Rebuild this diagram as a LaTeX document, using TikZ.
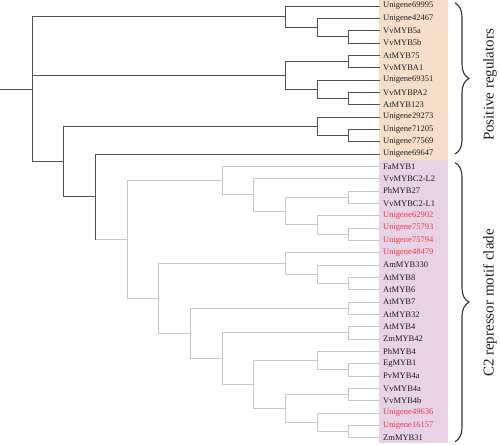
\documentclass[tikz,border=0pt]{standalone}
\usepackage{fontspec}
\setmainfont{Liberation Serif}
\usetikzlibrary{decorations.pathreplacing}
\definecolor{dk}{RGB}{80,80,80}
\definecolor{gy}{RGB}{200,200,200}
\definecolor{orbg}{RGB}{247,222,200}
\definecolor{pubg}{RGB}{232,210,230}
\definecolor{txt}{RGB}{30,30,30}
\definecolor{rd}{RGB}{232,60,72}
\definecolor{brc}{RGB}{50,50,50}
\begin{document}
\begin{tikzpicture}[x=1pt,y=-12.333pt,
  dkline/.style={draw=dk,line width=1pt},
  gyline/.style={draw=gy,line width=1pt},
  leaf/.style={anchor=west,inner xsep=3pt,inner ysep=0pt,font=\fontsize{8.5}{9}\selectfont,text=txt},
  rleaf/.style={leaf,text=rd},
  bracedeco/.style={decorate,decoration={brace,amplitude=14pt},draw=brc,line width=1.1pt},
  lab/.style={rotate=90,font=\fontsize{15}{17}\selectfont,text=txt}]
\useasboundingbox (0,-0.4865) rectangle (500,35.514);
\fill[orbg] (379,-0.4865) rectangle (448,12.5);
\fill[pubg] (379,12.5) rectangle (448,35.45);
% leaves
\node[leaf] (l0) at (380,0) {Unigene69995};
\node[leaf] (l1) at (380,1) {Unigene42467};
\node[leaf] (l2) at (380,2) {VvMYB5a};
\node[leaf] (l3) at (380,3) {VvMYB5b};
\node[leaf] (l4) at (380,4) {AtMYB75};
\node[leaf] (l5) at (380,5) {VvMYBA1};
\node[leaf] (l6) at (380,6) {Unigene69351};
\node[leaf] (l7) at (380,7) {VvMYBPA2};
\node[leaf] (l8) at (380,8) {AtMYB123};
\node[leaf] (l9) at (380,9) {Unigene29273};
\node[leaf] (l10) at (380,10) {Unigene71205};
\node[leaf] (l11) at (380,11) {Unigene77569};
\node[leaf] (l12) at (380,12) {Unigene69647};
\node[leaf] (l13) at (380,13) {FaMYB1};
\node[leaf] (l14) at (380,14) {VvMYBC2-L2};
\node[leaf] (l15) at (380,15) {PhMYB27};
\node[leaf] (l16) at (380,16) {VvMYBC2-L1};
\node[rleaf] (l17) at (380,17) {Unigene62902};
\node[rleaf] (l18) at (380,18) {Unigene75793};
\node[rleaf] (l19) at (380,19) {Unigene75794};
\node[rleaf] (l20) at (380,20) {Unigene48479};
\node[leaf] (l21) at (380,21) {AmMYB330};
\node[leaf] (l22) at (380,22) {AtMYB8};
\node[leaf] (l23) at (380,23) {AtMYB6};
\node[leaf] (l24) at (380,24) {AtMYB7};
\node[leaf] (l25) at (380,25) {AtMYB32};
\node[leaf] (l26) at (380,26) {AtMYB4};
\node[leaf] (l27) at (380,27) {ZmMYB42};
\node[leaf] (l28) at (380,28) {PhMYB4};
\node[leaf] (l29) at (380,29) {EgMYB1};
\node[leaf] (l30) at (380,30) {PvMYB4a};
\node[leaf] (l31) at (380,31) {VvMYB4a};
\node[leaf] (l32) at (380,32) {VvMYB4b};
\node[rleaf] (l33) at (380,33) {Unigene49636};
\node[rleaf] (l34) at (380,34) {Unigene16157};
\node[leaf] (l35) at (380,35) {ZmMYB31};
% internal nodes
\coordinate (rs) at (0,6.7417);
\coordinate (r) at (32,6.7417);
\coordinate (A) at (285.33,0.875);
\coordinate (A1) at (317,1.75);
\coordinate (A2) at (348.67,2.5);
\coordinate (B) at (285.33,5.625);
\coordinate (B1) at (348.67,4.5);
\coordinate (B2) at (317,6.75);
\coordinate (B3) at (348.67,7.5);
\coordinate (C) at (63.67,12.6084);
\coordinate (C1) at (317,9.75);
\coordinate (C2) at (348.67,10.5);
\coordinate (N3) at (95.33,15.4668);
\coordinate (D) at (127,18.9336);
\coordinate (E) at (222,14.15625);
\coordinate (E1) at (253.67,15.3125);
\coordinate (E2) at (285.33,16.625);
\coordinate (E3) at (348.67,15.5);
\coordinate (E4) at (317,17.75);
\coordinate (E5) at (348.67,18.5);
\coordinate (F) at (158.67,23.7109);
\coordinate (F1) at (285.33,20.875);
\coordinate (F2) at (317,21.75);
\coordinate (F3) at (348.67,22.5);
\coordinate (G) at (190.33,26.5469);
\coordinate (G1) at (348.67,24.5);
\coordinate (G2) at (222,28.59375);
\coordinate (G3) at (348.67,26.5);
\coordinate (G4) at (253.67,30.6875);
\coordinate (G5) at (317,28.75);
\coordinate (G6) at (348.67,29.5);
\coordinate (G7) at (285.33,32.625);
\coordinate (G8) at (348.67,31.5);
\coordinate (G9) at (317,33.75);
\coordinate (G10) at (348.67,34.5);
% gray edges
\draw[gyline] (N3 |- D) -- (D);
\draw[gyline] (D) |- (E); \draw[gyline] (D) |- (F);
\draw[gyline] (E) |- (l13.west); \draw[gyline] (E) |- (E1);
\draw[gyline] (E1) |- (l14.west); \draw[gyline] (E1) |- (E2);
\draw[gyline] (E2) |- (E3); \draw[gyline] (E2) |- (E4);
\draw[gyline] (E3) |- (l15.west); \draw[gyline] (E3) |- (l16.west);
\draw[gyline] (E4) |- (l17.west); \draw[gyline] (E4) |- (E5);
\draw[gyline] (E5) |- (l18.west); \draw[gyline] (E5) |- (l19.west);
\draw[gyline] (F) |- (F1); \draw[gyline] (F) |- (G);
\draw[gyline] (F1) |- (l20.west); \draw[gyline] (F1) |- (F2);
\draw[gyline] (F2) |- (l21.west); \draw[gyline] (F2) |- (F3);
\draw[gyline] (F3) |- (l22.west); \draw[gyline] (F3) |- (l23.west);
\draw[gyline] (G) |- (G1); \draw[gyline] (G) |- (G2);
\draw[gyline] (G1) |- (l24.west); \draw[gyline] (G1) |- (l25.west);
\draw[gyline] (G2) |- (G3); \draw[gyline] (G2) |- (G4);
\draw[gyline] (G3) |- (l26.west); \draw[gyline] (G3) |- (l27.west);
\draw[gyline] (G4) |- (G5); \draw[gyline] (G4) |- (G7);
\draw[gyline] (G5) |- (l28.west); \draw[gyline] (G5) |- (G6);
\draw[gyline] (G6) |- (l29.west); \draw[gyline] (G6) |- (l30.west);
\draw[gyline] (G7) |- (G8); \draw[gyline] (G7) |- (G9);
\draw[gyline] (G8) |- (l31.west); \draw[gyline] (G8) |- (l32.west);
\draw[gyline] (G9) |- (l33.west); \draw[gyline] (G9) |- (G10);
\draw[gyline] (G10) |- (l34.west); \draw[gyline] (G10) |- (l35.west);
% dark edges
\draw[dkline] (rs) -- (r);
\draw[dkline] (r) |- (A); \draw[dkline] (r) |- (B); \draw[dkline] (r) |- (C);
\draw[dkline] (A) |- (l0.west); \draw[dkline] (A) |- (A1);
\draw[dkline] (A1) |- (l1.west); \draw[dkline] (A1) |- (A2);
\draw[dkline] (A2) |- (l2.west); \draw[dkline] (A2) |- (l3.west);
\draw[dkline] (B) |- (B1); \draw[dkline] (B) |- (B2);
\draw[dkline] (B1) |- (l4.west); \draw[dkline] (B1) |- (l5.west);
\draw[dkline] (B2) |- (l6.west); \draw[dkline] (B2) |- (B3);
\draw[dkline] (B3) |- (l7.west); \draw[dkline] (B3) |- (l8.west);
\draw[dkline] (C) |- (C1); \draw[dkline] (C) |- (N3);
\draw[dkline] (C1) |- (l9.west); \draw[dkline] (C1) |- (C2);
\draw[dkline] (C2) |- (l10.west); \draw[dkline] (C2) |- (l11.west);
\draw[dkline] (N3) |- (l12.west); \draw[dkline] (N3) -- (N3 |- D);
% braces and labels
\coordinate (bt1) at (455,-0.25);
\coordinate (bb1) at (455,12.0);
\coordinate (bt2) at (455,12.7);
\coordinate (bb2) at (455,35.33);
\draw[bracedeco] (bt1) -- (bb1);
\draw[bracedeco] (bt2) -- (bb2);
\node[lab] (pl) at (490,6.4) {Positive regulators};
\node[lab] (cl) at (490,24.08) {C2 repressor motif clade};
\end{tikzpicture}
\end{document}
